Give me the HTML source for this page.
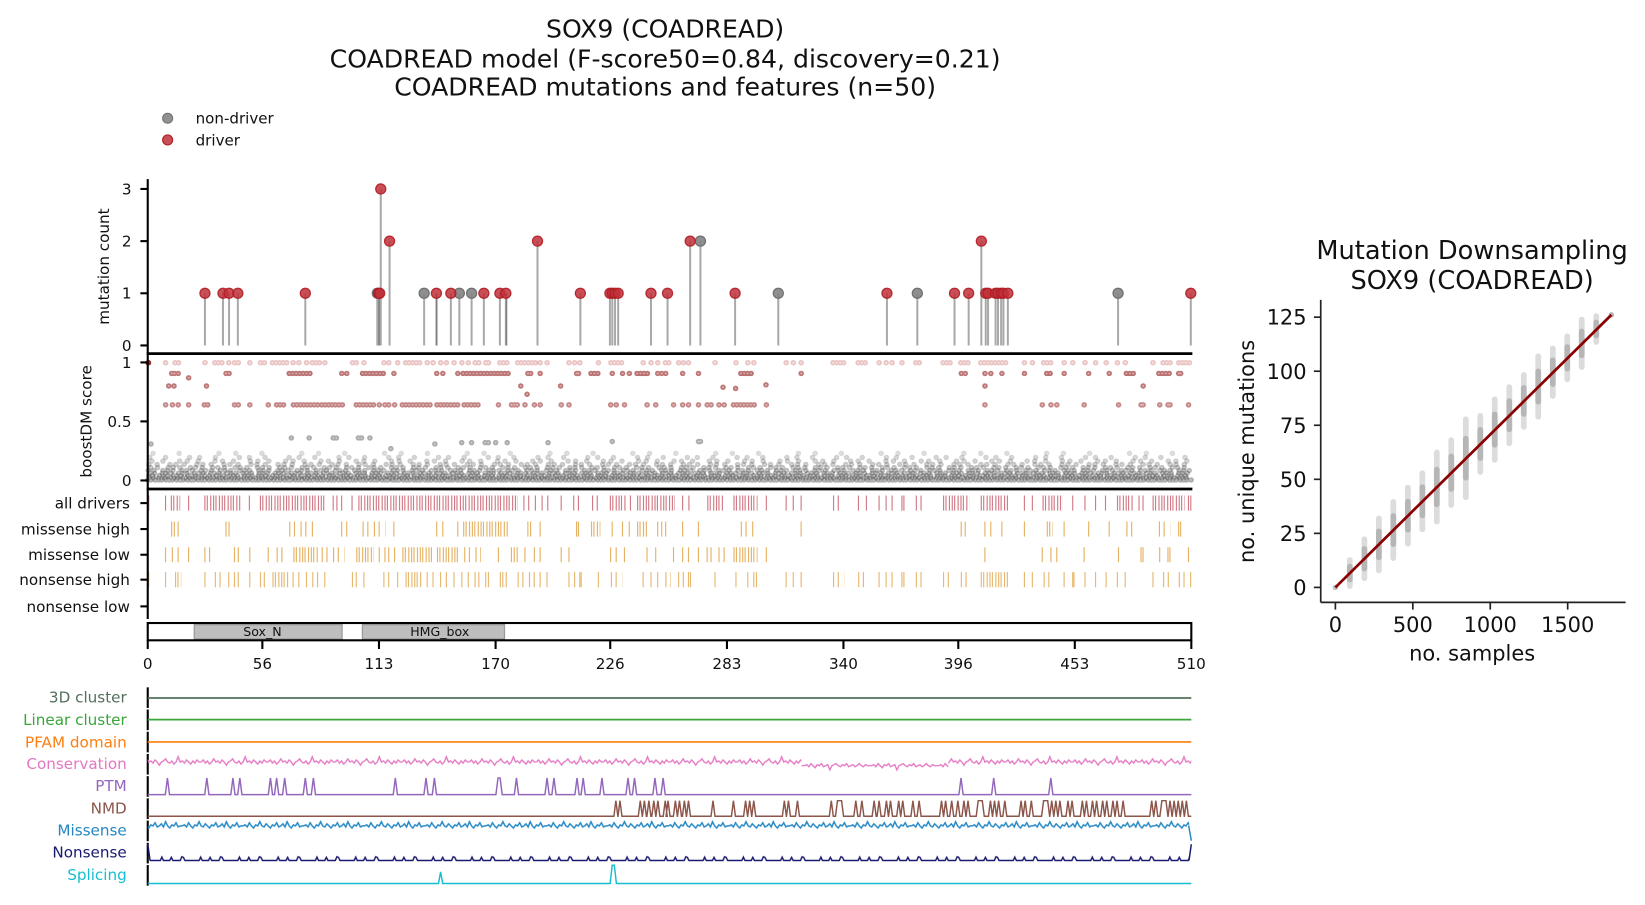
<!DOCTYPE html>
<html><head><meta charset="utf-8">
<style>
html,body{margin:0;padding:0;background:#fff;}
svg{display:block;}
text{font-family:"DejaVu Sans","Liberation Sans",sans-serif;fill:#111;}
</style></head>
<body>
<svg xmlns="http://www.w3.org/2000/svg" width="1645" height="905" viewBox="0 0 1570 864" preserveAspectRatio="none">
<defs>
  <pattern id="pC1" patternUnits="userSpaceOnUse" x="0" y="712.5" width="64" height="30">
    <polyline fill="none" stroke="#e377c2" stroke-width="1.3" points="0,15 2,13 4,16 6,14 8,17 10,15 12,12 14,15 16,14 18,16 20,13 22,15 24,18 26,15 28,14 30,12 32,15 34,16 36,14 38,17 40,15 42,10 44,15 46,14 48,16 50,13 52,15 54,17 56,14 58,16 60,13 62,15 64,15"/>
  </pattern>
  <pattern id="pC2" patternUnits="userSpaceOnUse" x="0" y="716" width="64" height="30">
    <polyline fill="none" stroke="#e377c2" stroke-width="1.3" points="0,15 2,14 4,16 6,13 8,15 10,17 12,14 14,15 16,13 18,16 20,15 22,14 24,19 26,15 28,14 30,13 32,15 34,16 36,14 38,15 40,13 42,16 44,15 46,14 48,16 50,15 52,13 54,15 56,16 58,14 60,15 62,15 64,15"/>
  </pattern>
  <pattern id="pM" patternUnits="userSpaceOnUse" x="0" y="773.5" width="58" height="30">
    <polyline fill="none" stroke="#2487c4" stroke-width="1.4" points="0,15 2,14 4,16 6,12 8,15 10,17 12,14 14,15 16,11 18,15 20,16 22,13 24,15 26,17 28,14 30,15 32,12 34,16 36,15 38,13 40,16 42,11 44,15 46,17 48,14 50,15 52,12 54,16 56,15 58,15"/>
  </pattern>
  <pattern id="pN" patternUnits="userSpaceOnUse" x="0" y="806.5" width="37" height="30">
    <polyline fill="none" stroke="#191970" stroke-width="1.4" points="0,15 5,15 6.5,11.8 8,15 14,15 15.5,12 17,15 24,15 25.5,11.5 27,12 28.5,15 37,15"/>
  </pattern>

  <path id="r1r" d="M167 0H173M260 0H275M387 0H403M477 0H485M936 0H962M205 0H213M298 0H306M494 0H512M583 0H594M635 0H640M795 0H806M819 0H827M874 0H880M900 0H908M917 0H925M996 0H1005M1110 0H1120M1125 0H1137"/>
  <path id="r1s" d="M158 0h.1M195.6 0h.1M218.3 0h.1M223.8 0h.1M227.4 0h.1M238.4 0h.1M248.6 0h.1M252.3 0h.1M279.7 0h.1M285.2 0h.1M292.5 0h.1M310 0h.1M336.4 0h.1M340 0h.1M347.3 0h.1M366.4 0h.1M371 0h.1M379.5 0h.1M407.7 0h.1M413.3 0h.1M420.5 0h.1M426 0h.1M433.3 0h.1M440.8 0h.1M446.9 0h.1M453.4 0h.1M457 0h.1M463.6 0h.1M466.2 0h.1M515.5 0h.1M522.1 0h.1M543 0h.1M548.4 0h.1M553.4 0h.1M571.1 0h.1M613.8 0h.1M621.3 0h.1M627.7 0h.1M647.7 0h.1M652.2 0h.1M657.1 0h.1M682.4 0h.1M702.4 0h.1M713.7 0h.1M719.4 0h.1M750.3 0h.1M757.1 0h.1M764.6 0h.1M839 0h.1M845.7 0h.1M851.4 0h.1M860.8 0h.1M977.7 0h.1M985.3 0h.1M1015.6 0h.1M1023.8 0h.1M1035.5 0h.1M1045.6 0h.1M1055.7 0h.1M1066.4 0h.1M1073.9 0h.1M1100.4 0h.1"/>
  <path id="r9r" d="M442 0H485M608 0H618M564 0H573M999 0H1005M276 0H299M346 0H368M707 0H720M1075 0H1084M1106 0H1117"/>
  <path id="r9s" d="M163.8 0h.1M166.4 0h.1M170 0h.1M215.7 0h.1M218.6 0h.1M326.1 0h.1M330.9 0h.1M375.9 0h.1M416.8 0h.1M422.6 0h.1M436.9 0h.1M503.8 0h.1M506.4 0h.1M515.5 0h.1M550.3 0h.1M552.1 0h.1M584.3 0h.1M594.1 0h.1M600.6 0h.1M627.7 0h.1M631.5 0h.1M635.3 0h.1M651.5 0h.1M666.6 0h.1M764.6 0h.1M917.4 0h.1M921.2 0h.1M940 0h.1M945.6 0h.1M956.2 0h.1M977.7 0h.1M1015.6 0h.1M1039 0h.1M1058.6 0h.1M1124.9 0h.1M1126.8 0h.1M161 12h.1M166 12h.1M197 12h.1M497 12h.1M535 12h.1M690 13.2h.1M702 14.3h.1M731 10.9h.1M940 12h.1M1091 12h.1M180 4.2h.1M503 19.9h.1"/>
  <path id="r6r" d="M280 0H304M340 0H357M384 0H413M417 0H439M700 0H723M307 0H329M443 0H459M264 0H273M195 0H201"/>
  <path id="r6s" d="M158 0h.1M164.5 0h.1M170 0h.1M180 0h.1M223.8 0h.1M227.4 0h.1M238.4 0h.1M256 0h.1M362 0h.1M367.4 0h.1M371 0h.1M376.6 0h.1M475.7 0h.1M488.1 0h.1M490.8 0h.1M493.6 0h.1M501 0h.1M510 0h.1M515.5 0h.1M535.6 0h.1M543 0h.1M582.8 0h.1M588.1 0h.1M596 0h.1M617.5 0h.1M625.8 0h.1M642.8 0h.1M651.5 0h.1M657.1 0h.1M666.6 0h.1M674.9 0h.1M678.6 0h.1M686.2 0h.1M691.1 0h.1M731.4 0h.1M940 0h.1M994.7 0h.1M1003 0h.1M1008.6 0h.1M1034.7 0h.1M1067.5 0h.1M1089 0h.1M1090.9 0h.1M1106.8 0h.1M1114.7 0h.1M1116.6 0h.1M1134.3 0h.1"/>
  <g id="gb">
    <path d="M141 458.2H1137" stroke-opacity=".46" stroke-dasharray="0 2.9 0 4.1 0 3.3"/>
    <path d="M142.5 456.3H1137" stroke-opacity=".44" stroke-dasharray="0 3.7 0 5.3 0 2.6"/>
    <path d="M141.8 454.1H1137" stroke-opacity=".42" stroke-dasharray="0 4.1 0 6.3 0 3.1"/>
    <path d="M143 451.7H1137" stroke-opacity=".4" stroke-dasharray="0 4.6 0 7.3 0 3.5"/>
    <path d="M141.4 449.1H1137" stroke-opacity=".37" stroke-dasharray="0 5.4 0 8.7 0 4.2"/>
    <path d="M144 446.4H1137" stroke-opacity=".34" stroke-dasharray="0 6.4 0 10.1 0 4.8"/>
    <path d="M142 443.4H1137" stroke-opacity=".31" stroke-dasharray="0 7.9 0 12.3 0 5.6"/>
    <path d="M145 440.2H1137" stroke-opacity=".28" stroke-dasharray="0 10.5 0 16 0 7.2"/>
    <path d="M143 436.7H1137" stroke-opacity=".25" stroke-dasharray="0 15 0 23 0 9.5"/>
    <path d="M146 432.8H1137" stroke-opacity=".2" stroke-dasharray="0 25 0 38 0 16"/>
    <path stroke-opacity=".45" d="M144 423.8h.1M278 418.1h.1M295 418.1h.1M318 418.1h.1M321 418.1h.1M342 418.1h.1M345 418.1h.1M353 418.1h.1M373 428.3h.1M415 423.8h.1M440.6 422.6h.1M450 422.6h.1M463 422.6h.1M466 422.6h.1M473 422.6h.1M484 422.6h.1M523 422.6h.1M584.3 421.5h.1M666.6 421.5h.1M668.5 421.5h.1"/>
  </g>
</defs>
<rect x="0" y="0" width="1570" height="864" fill="#fff"/>

<text x="634.8" y="35.7" font-size="24" text-anchor="middle">SOX9 (COADREAD)</text>
<text x="634.8" y="64.4" font-size="24" text-anchor="middle">COADREAD model (F-score50=0.84, discovery=0.21)</text>
<text x="634.8" y="91.4" font-size="24" text-anchor="middle">COADREAD mutations and features (n=50)</text>

<circle cx="160" cy="112.9" r="4.8" fill="#858585" fill-opacity="0.9" stroke="#707070" stroke-width="1"/>
<text x="186.7" y="118.1" font-size="14.4">non-driver</text>
<circle cx="160" cy="133.6" r="4.8" fill="#c0303a" fill-opacity="0.85" stroke="#b01c24" stroke-width="1"/>
<text x="186.7" y="138.8" font-size="14.4">driver</text>

<g stroke="#000" stroke-width="2" fill="none">
  <line x1="141" y1="171" x2="141" y2="337.6"/>
  <line x1="134" y1="180.4" x2="141" y2="180.4"/>
  <line x1="134" y1="230.2" x2="141" y2="230.2"/>
  <line x1="134" y1="280" x2="141" y2="280"/>
  <line x1="134" y1="329.8" x2="141" y2="329.8"/>
</g>
<g font-size="14.5" text-anchor="end">
  <text x="125.5" y="185.6">3</text>
  <text x="125.5" y="235.4">2</text>
  <text x="125.5" y="285.2">1</text>
  <text x="125.5" y="335">0</text>
</g>
<text x="103.9" y="254.5" font-size="14.5" text-anchor="middle" transform="rotate(-90 103.9 254.5)">mutation count</text>

<path fill="none" stroke="#a8a8a8" stroke-width="1.9" d="M195.6 329.8V280M212.8 329.8V280M218.6 329.8V280M227 329.8V280M291.4 329.8V280M360.1 329.8V280M361.3 329.8V280M362.4 329.8V280M363.4 329.8V180.4M371.8 329.8V230.2M404.8 329.8V280M416.5 329.8V280M430.3 329.8V280M438.4 329.8V280M450.1 329.8V280M461.8 329.8V280M477.1 329.8V280M482.8 329.8V280M513 329.8V230.2M553.9 329.8V280M582.1 329.8V280M584.4 329.8V280M587 329.8V280M590 329.8V280M621.3 329.8V280M637.1 329.8V280M658.7 329.8V230.2M668.5 329.8V230.2M701.6 329.8V280M742.8 329.8V280M846.5 329.8V280M875.5 329.8V280M911 329.8V280M924.5 329.8V280M936.6 329.8V230.2M940.8 329.8V280M943 329.8V280M950.2 329.8V280M952.5 329.8V280M955.5 329.8V280M957.7 329.8V280M961.9 329.8V280M1067.1 329.8V280M1136.5 329.8V280"/>
<path fill="none" stroke="#808080" stroke-width="1.5" d="M416.8 329.8V280M483.4 329.8V280M361.8 329.8V280"/>
<g fill="#858585" fill-opacity="0.92" stroke="#707070" stroke-width="1.2">
  <circle cx="360.1" cy="280" r="4.8"/><circle cx="404.8" cy="280" r="4.8"/><circle cx="438.4" cy="280" r="4.8"/><circle cx="450.1" cy="280" r="4.8"/><circle cx="668.5" cy="230.2" r="4.8"/><circle cx="742.8" cy="280" r="4.8"/><circle cx="875.5" cy="280" r="4.8"/><circle cx="1067.1" cy="280" r="4.8"/>
</g>
<g fill="#c0303a" fill-opacity="0.85" stroke="#b01c24" stroke-opacity="0.9" stroke-width="1.2">
  <circle cx="195.6" cy="280" r="4.8"/><circle cx="212.8" cy="280" r="4.8"/><circle cx="218.6" cy="280" r="4.8"/><circle cx="227" cy="280" r="4.8"/><circle cx="291.4" cy="280" r="4.8"/><circle cx="361.3" cy="280" r="4.8"/><circle cx="362.4" cy="280" r="4.8"/><circle cx="363.4" cy="180.4" r="4.8"/><circle cx="371.8" cy="230.2" r="4.8"/><circle cx="416.5" cy="280" r="4.8"/><circle cx="430.3" cy="280" r="4.8"/><circle cx="461.8" cy="280" r="4.8"/><circle cx="477.1" cy="280" r="4.8"/><circle cx="482.8" cy="280" r="4.8"/><circle cx="513" cy="230.2" r="4.8"/><circle cx="553.9" cy="280" r="4.8"/><circle cx="582.1" cy="280" r="4.8"/><circle cx="584.4" cy="280" r="4.8"/><circle cx="587" cy="280" r="4.8"/><circle cx="590" cy="280" r="4.8"/><circle cx="621.3" cy="280" r="4.8"/><circle cx="637.1" cy="280" r="4.8"/><circle cx="658.7" cy="230.2" r="4.8"/><circle cx="701.6" cy="280" r="4.8"/><circle cx="846.5" cy="280" r="4.8"/><circle cx="911" cy="280" r="4.8"/><circle cx="924.5" cy="280" r="4.8"/><circle cx="936.6" cy="230.2" r="4.8"/><circle cx="940.8" cy="280" r="4.8"/><circle cx="943" cy="280" r="4.8"/><circle cx="950.2" cy="280" r="4.8"/><circle cx="952.5" cy="280" r="4.8"/><circle cx="955.5" cy="280" r="4.8"/><circle cx="957.7" cy="280" r="4.8"/><circle cx="961.9" cy="280" r="4.8"/><circle cx="1136.5" cy="280" r="4.8"/>
</g>

<g fill="none" stroke-linecap="round">
  <use href="#gb" stroke="#474747" stroke-width="5.2"/>
  <use href="#gb" stroke="#ffffff" stroke-width="1.6"/>
</g>

<g fill="none" stroke-linecap="round">
  <use href="#r1r" y="346.3" stroke="#b02020" stroke-width="5.2" stroke-opacity=".27" stroke-dasharray="0 3.4"/>
  <use href="#r1r" y="346.3" stroke="#ffffff" stroke-width="2.1" stroke-opacity=".5" stroke-dasharray="0 3.4"/>
  <use href="#r1s" y="346.3" stroke="#b02020" stroke-width="5.2" stroke-opacity=".27"/>
  <use href="#r1s" y="346.3" stroke="#ffffff" stroke-width="2.1" stroke-opacity=".5"/>
  <path d="M141.5 346.3h.1" stroke="#8b1010" stroke-width="5.4" stroke-opacity=".9"/>

  <use href="#r9r" y="356.5" stroke="#8b1010" stroke-width="5.2" stroke-opacity=".6" stroke-dasharray="0 3.3"/>
  <use href="#r9r" y="356.5" stroke="#ffffff" stroke-width="2" stroke-opacity=".4" stroke-dasharray="0 3.3"/>
  <use href="#r9s" y="356.5" stroke="#8b1010" stroke-width="5.2" stroke-opacity=".57"/>
  <use href="#r9s" y="356.5" stroke="#ffffff" stroke-width="2" stroke-opacity=".4"/>

  <use href="#r6r" y="386.5" stroke="#8b1010" stroke-width="5.2" stroke-opacity=".52" stroke-dasharray="0 3.3"/>
  <use href="#r6r" y="386.5" stroke="#ffffff" stroke-width="2" stroke-opacity=".4" stroke-dasharray="0 3.3"/>
  <use href="#r6s" y="386.5" stroke="#8b1010" stroke-width="5.2" stroke-opacity=".5"/>
  <use href="#r6s" y="386.5" stroke="#ffffff" stroke-width="2" stroke-opacity=".4"/>
</g>

<g stroke="#000" fill="none">
  <line x1="140" y1="337.6" x2="1138" y2="337.6" stroke-width="2.6"/>
  <line x1="140" y1="466.8" x2="1138" y2="466.8" stroke-width="2.6"/>
  <line x1="141" y1="337.6" x2="141" y2="466.8" stroke-width="2"/>
  <line x1="134" y1="346" x2="141" y2="346" stroke-width="2"/>
  <line x1="134" y1="402.3" x2="141" y2="402.3" stroke-width="2"/>
  <line x1="134" y1="458.7" x2="141" y2="458.7" stroke-width="2"/>
</g>
<g font-size="14.5" text-anchor="end">
  <text x="125.5" y="351.2">1</text>
  <text x="125.5" y="407.5">0.5</text>
  <text x="125.5" y="463.9">0</text>
</g>
<text x="87.5" y="402.3" font-size="14.5" text-anchor="middle" transform="rotate(-90 87.5 402.3)">boostDM score</text>

<g fill="none" stroke="#c04858" stroke-opacity="0.72" transform="translate(0,473.1)">
  <path stroke-width="14.4" stroke-dasharray="1.1 1.2 1.1 2.2 1.1 1.6" d="M163 7.2H172M195 7.2H230M248 7.2H311M342 7.2H494M582 7.2H597M608 7.2H644M675 7.2H691M700 7.2H723M900 7.2H925M936 7.2H962M995 7.2H1014M1066 7.2H1082M1100 7.2H1131"/>
  <path stroke-width="14.4" stroke-dasharray="1.1 3.4 1.1 5.2" d="M321 7.2H331M547 7.2H555M565 7.2H573M795 7.2H805M874 7.2H880"/>
  <path stroke-width="1.1" d="M142 0v14.4M158 0v14.4M180 0v14.4M238 0v14.4M318 0v14.4M336 0v14.4M500 0v14.4M504.6 0v14.4M511 0v14.4M517.4 0v14.4M522.8 0v14.4M535.6 0v14.4M601.7 0v14.4M651.5 0v14.4M657.5 0v14.4M731.4 0v14.4M750.3 0v14.4M757.1 0v14.4M764.6 0v14.4M819.3 0v14.4M826.9 0v14.4M839 0v14.4M845.7 0v14.4M851.4 0v14.4M860.8 0v14.4M862.7 0v14.4M977.7 0v14.4M985.3 0v14.4M1023.8 0v14.4M1035.5 0v14.4M1045.6 0v14.4M1055.1 0v14.4M1087.1 0v14.4M1090.9 0v14.4M1134.3 0v14.4M1136.5 0v14.4"/>
</g>
<g fill="none" stroke="#e0a040" stroke-opacity="0.8" transform="translate(0,497.9)">
  <path stroke-width="14.4" stroke-dasharray="1.1 1.2 1.1 2.2 1.1 1.6" d="M442 7.2H485M608 7.2H618M564 7.2H573M999 7.2H1005"/>
  <path stroke-width="14.4" stroke-dasharray="1.1 3.4 1.1 5.2" d="M276 7.2H299M346 7.2H368M707 7.2H720M1075 7.2H1084M1106 7.2H1117"/>
  <path stroke-width="1.1" d="M163.8 0v14.4M166.4 0v14.4M170 0v14.4M215.7 0v14.4M218.6 0v14.4M326.1 0v14.4M330.9 0v14.4M375.9 0v14.4M416.8 0v14.4M422.6 0v14.4M436.9 0v14.4M503.8 0v14.4M506.4 0v14.4M515.5 0v14.4M550.3 0v14.4M552.1 0v14.4M584.3 0v14.4M594.1 0v14.4M600.6 0v14.4M627.7 0v14.4M631.5 0v14.4M635.3 0v14.4M651.5 0v14.4M666.6 0v14.4M764.6 0v14.4M917.4 0v14.4M921.2 0v14.4M940 0v14.4M945.6 0v14.4M956.2 0v14.4M977.7 0v14.4M1015.6 0v14.4M1039 0v14.4M1058.6 0v14.4M1124.9 0v14.4M1126.8 0v14.4"/>
</g>
<g fill="none" stroke="#e0a040" stroke-opacity="0.8" transform="translate(0,522.4)">
  <path stroke-width="14.4" stroke-dasharray="1.1 1.2 1.1 2.2 1.1 1.6" d="M280 7.2H304M340 7.2H357M384 7.2H413M417 7.2H439M700 7.2H723"/>
  <path stroke-width="14.4" stroke-dasharray="1.1 3.4 1.1 5.2" d="M307 7.2H329M443 7.2H459M264 7.2H273M195 7.2H201"/>
  <path stroke-width="1.1" d="M158 0v14.4M164.5 0v14.4M170 0v14.4M180 0v14.4M223.8 0v14.4M227.4 0v14.4M238.4 0v14.4M256 0v14.4M362 0v14.4M367.4 0v14.4M371 0v14.4M376.6 0v14.4M475.7 0v14.4M488.1 0v14.4M490.8 0v14.4M493.6 0v14.4M501 0v14.4M510 0v14.4M515.5 0v14.4M535.6 0v14.4M543 0v14.4M582.8 0v14.4M588.1 0v14.4M596 0v14.4M617.5 0v14.4M625.8 0v14.4M642.8 0v14.4M651.5 0v14.4M657.1 0v14.4M666.6 0v14.4M674.9 0v14.4M678.6 0v14.4M686.2 0v14.4M691.1 0v14.4M731.4 0v14.4M940 0v14.4M994.7 0v14.4M1003 0v14.4M1008.6 0v14.4M1034.7 0v14.4M1067.5 0v14.4M1089 0v14.4M1090.9 0v14.4M1106.8 0v14.4M1114.7 0v14.4M1116.6 0v14.4M1134.3 0v14.4"/>
</g>
<g fill="none" stroke="#e0a040" stroke-opacity="0.75" transform="translate(0,546.2)">
  <path stroke-width="14.4" stroke-dasharray="1.1 1.2 1.1 2.2 1.1 1.6" d="M167 7.2H173M260 7.2H275M387 7.2H403M477 7.2H485M936 7.2H962"/>
  <path stroke-width="14.4" stroke-dasharray="1.1 3.4 1.1 5.2" d="M205 7.2H213M298 7.2H306M494 7.2H512M583 7.2H594M635 7.2H640M795 7.2H806M819 7.2H827M874 7.2H880M900 7.2H908M917 7.2H925M996 7.2H1005M1110 7.2H1120M1125 7.2H1137"/>
  <path stroke-width="1.1" d="M141.9 0v14.4M158 0v14.4M195.6 0v14.4M218.3 0v14.4M223.8 0v14.4M227.4 0v14.4M238.4 0v14.4M248.6 0v14.4M252.3 0v14.4M279.7 0v14.4M285.2 0v14.4M292.5 0v14.4M310 0v14.4M336.4 0v14.4M340 0v14.4M347.3 0v14.4M366.4 0v14.4M371 0v14.4M379.5 0v14.4M407.7 0v14.4M413.3 0v14.4M420.5 0v14.4M426 0v14.4M433.3 0v14.4M440.8 0v14.4M446.9 0v14.4M453.4 0v14.4M457 0v14.4M463.6 0v14.4M466.2 0v14.4M515.5 0v14.4M522.1 0v14.4M543 0v14.4M548.4 0v14.4M553.4 0v14.4M554.7 0v14.4M571.1 0v14.4M613.8 0v14.4M621.3 0v14.4M627.7 0v14.4M647.7 0v14.4M652.2 0v14.4M657.1 0v14.4M659 0v14.4M682.4 0v14.4M702.4 0v14.4M713.7 0v14.4M719.4 0v14.4M722 0v14.4M750.3 0v14.4M757.1 0v14.4M764.6 0v14.4M839 0v14.4M845.7 0v14.4M851.4 0v14.4M860.8 0v14.4M862.7 0v14.4M977.7 0v14.4M985.3 0v14.4M1015.6 0v14.4M1023.8 0v14.4M1025 0v14.4M1035.5 0v14.4M1045.6 0v14.4M1055.7 0v14.4M1066.4 0v14.4M1073.9 0v14.4M1100.4 0v14.4"/>
</g>

<g stroke="#000" stroke-width="2" fill="none">
  <line x1="141" y1="466.8" x2="141" y2="591"/>
  <line x1="134" y1="480.3" x2="141" y2="480.3"/>
  <line x1="134" y1="505.1" x2="141" y2="505.1"/>
  <line x1="134" y1="529.6" x2="141" y2="529.6"/>
  <line x1="134" y1="553.4" x2="141" y2="553.4"/>
  <line x1="134" y1="578.9" x2="141" y2="578.9"/>
</g>
<g font-size="14.5" text-anchor="end">
  <text x="124" y="485.5">all drivers</text>
  <text x="124" y="510.3">missense high</text>
  <text x="124" y="534.8">missense low</text>
  <text x="124" y="558.6">nonsense high</text>
  <text x="124" y="584.1">nonsense low</text>
</g>

<rect x="185.4" y="596.4" width="141.1" height="13.6" fill="#bebebe" stroke="#9a9a9a" stroke-width="1.2"/>
<rect x="345.9" y="596.4" width="135.6" height="13.6" fill="#bebebe" stroke="#9a9a9a" stroke-width="1.2"/>
<text x="250.5" y="607" font-size="12" text-anchor="middle">Sox_N</text>
<text x="419.7" y="607" font-size="12" text-anchor="middle">HMG_box</text>
<rect x="141" y="594.8" width="996" height="16.5" fill="none" stroke="#000" stroke-width="2"/>
<g stroke="#000" stroke-width="2">
  <line x1="141" y1="611.3" x2="141" y2="619.6"/>
  <line x1="250.4" y1="611.3" x2="250.4" y2="619.6"/>
  <line x1="361.7" y1="611.3" x2="361.7" y2="619.6"/>
  <line x1="473" y1="611.3" x2="473" y2="619.6"/>
  <line x1="582.4" y1="611.3" x2="582.4" y2="619.6"/>
  <line x1="693.8" y1="611.3" x2="693.8" y2="619.6"/>
  <line x1="805" y1="611.3" x2="805" y2="619.6"/>
  <line x1="914.6" y1="611.3" x2="914.6" y2="619.6"/>
  <line x1="1025.8" y1="611.3" x2="1025.8" y2="619.6"/>
  <line x1="1137" y1="611.3" x2="1137" y2="619.6"/>
</g>
<g font-size="14.5" text-anchor="middle">
  <text x="141" y="638.8">0</text>
  <text x="250.4" y="638.8">56</text>
  <text x="361.7" y="638.8">113</text>
  <text x="473" y="638.8">170</text>
  <text x="582.4" y="638.8">226</text>
  <text x="693.8" y="638.8">283</text>
  <text x="805" y="638.8">340</text>
  <text x="914.6" y="638.8">396</text>
  <text x="1025.8" y="638.8">453</text>
  <text x="1137" y="638.8">510</text>
</g>

<g stroke="#000" stroke-width="2">
  <line x1="141" y1="656.2" x2="141" y2="675.9"/>
  <line x1="141" y1="677.4" x2="141" y2="697.1"/>
  <line x1="141" y1="698.6" x2="141" y2="718.3"/>
  <line x1="141" y1="719.8" x2="141" y2="739.5"/>
  <line x1="141" y1="741" x2="141" y2="760.7"/>
  <line x1="141" y1="762.2" x2="141" y2="781.9"/>
  <line x1="141" y1="783.4" x2="141" y2="803.1"/>
  <line x1="141" y1="804.6" x2="141" y2="824.3"/>
  <line x1="141" y1="825.8" x2="141" y2="845.5"/>
</g>
<g font-size="14.5" text-anchor="end">
  <text x="121" y="670.9" style="fill:#52705c">3D cluster</text>
  <text x="121" y="692.2" style="fill:#3aa53a">Linear cluster</text>
  <text x="121" y="713.5" style="fill:#ff7f0e">PFAM domain</text>
  <text x="121" y="734.2" style="fill:#e377c2">Conservation</text>
  <text x="121" y="755.2" style="fill:#9467bd">PTM</text>
  <text x="121" y="776.5" style="fill:#8c564b">NMD</text>
  <text x="121" y="797.5" style="fill:#2487c4">Missense</text>
  <text x="121" y="818.5" style="fill:#191970">Nonsense</text>
  <text x="121" y="840.2" style="fill:#17becf">Splicing</text>
</g>
<line x1="141" y1="666.4" x2="1137" y2="666.4" stroke="#52705c" stroke-width="1.6"/>
<line x1="141" y1="687" x2="1137" y2="687" stroke="#3aa53a" stroke-width="1.6"/>
<line x1="141" y1="708.3" x2="1137" y2="708.3" stroke="#ff7f0e" stroke-width="1.6"/>
<rect x="141" y="719" width="624" height="16" fill="url(#pC1)"/>
<rect x="765" y="722" width="140" height="17" fill="url(#pC2)"/>
<rect x="905" y="719" width="232" height="16" fill="url(#pC1)"/>
<path fill="none" stroke="#9467bd" stroke-width="1.4" d="M141 758.6H157.8l2-15.9l2 15.9H195.4l2-15.9l2 15.9H220.3l2-15.9l2 15.9H226.9l2-15.9l2 15.9H256.1l2-15.9l2 15.9H262l2-15.9l2 15.9H269.7l2-15.9l2 15.9H289.4l2-15.9l2 15.9H297.1l2-15.9l2 15.9H375.3l2-15.9l2 15.9H404.6l2-15.9l2 15.9H412.6l2-15.9l2 15.9H473.3l2-15.9h2l2 15.9H490.9l2-15.9l2 15.9H520.1l2-15.9l2 15.9H526.7l2-15.9l2 15.9H548.7l2-15.9l2 15.9H554.6l2-15.9l2 15.9H572.5l2-15.9l2 15.9H597.4l2-15.9l2 15.9H603.6l2-15.9l2 15.9H623.1l2-15.9l2 15.9H630.9l2-15.9l2 15.9H915.2l2-15.9l2 15.9H946.4l2-15.9l2 15.9H1000.9l2-15.9l2 15.9H1137"/>
<path fill="none" stroke="#8c564b" stroke-width="1.4" d="M141 779.3H585.9l1.9-14.9l1.9 14.9H589.8l1.9-14.9l1.9 14.9H609.2l1.9-14.9l1.9 14.9H613.1l1.9-14.9l1.9 14.9H617.4l1.9-14.9l1.9 14.9H622.1l1.9-14.9l1.9 14.9H626l1.9-14.9l1.9 14.9H633l1.9-14.9l1.9 14.9H635.7l1.9-14.9l1.9 14.9H642.7l1.9-14.9l1.9 14.9H646.6l1.9-14.9l1.9 14.9H651.3l1.9-14.9l1.9 14.9H655.2l1.9-14.9l1.9 14.9H678.6l1.9-14.9l1.9 14.9H698.1l1.9-14.9l1.9 14.9H709.7l1.9-14.9l1.9 14.9H713.6l1.9-14.9l1.9 14.9H717.5l1.9-14.9l1.9 14.9H746.7l1.9-14.9l1.9 14.9H750.6l1.9-14.9l1.9 14.9H759.2l1.9-14.9l1.9 14.9H791.5l1.9-14.9l1.9 14.9H797.4l1.9-14.9H803.2l1.9 14.9H814.9l1.9-14.9l1.9 14.9H820.7l1.9-14.9l1.9 14.9H832.4l1.9-14.9l1.9 14.9H837.1l1.9-14.9l1.9 14.9H844.1l1.9-14.9l1.9 14.9H848l1.9-14.9l1.9 14.9H855.8l1.9-14.9l1.9 14.9H859.7l1.9-14.9l1.9 14.9H869.4l1.9-14.9l1.9 14.9H875.3l1.9-14.9l1.9 14.9H896.7l1.9-14.9l1.9 14.9H900.6l1.9-14.9l1.9 14.9H906.4l1.9-14.9l1.9 14.9H912.3l1.9-14.9l1.9 14.9H918.1l1.9-14.9l1.9 14.9H922l1.9-14.9l1.9 14.9H931.7l1.9-14.9H937.5l1.9 14.9H943.4l1.9-14.9l1.9 14.9H947.3l1.9-14.9l1.9 14.9H951.2l1.9-14.9l1.9 14.9H957.1l1.9-14.9l1.9 14.9H972.6l1.9-14.9l1.9 14.9H976.5l1.9-14.9l1.9 14.9H982.4l1.9-14.9l1.9 14.9H994.1l1.9-14.9H999.9l1.9 14.9H1001.9l1.9-14.9l1.9 14.9H1005.8l1.9-14.9l1.9 14.9H1009.7l1.9-14.9l1.9 14.9H1017.4l1.9-14.9l1.9 14.9H1021.3l1.9-14.9l1.9 14.9H1031.1l1.9-14.9l1.9 14.9H1035l1.9-14.9l1.9 14.9H1040.8l1.9-14.9l1.9 14.9H1044.7l1.9-14.9l1.9 14.9H1050.5l1.9-14.9l1.9 14.9H1054.4l1.9-14.9l1.9 14.9H1060.3l1.9-14.9l1.9 14.9H1064.2l1.9-14.9l1.9 14.9H1070l1.9-14.9l1.9 14.9H1097.3l1.9-14.9l1.9 14.9H1101.2l1.9-14.9l1.9 14.9H1107l1.9-14.9H1112.8l1.9 14.9H1114.8l1.9-14.9l1.9 14.9H1118.7l1.9-14.9l1.9 14.9H1122.6l1.9-14.9l1.9 14.9H1126.5l1.9-14.9l1.9 14.9H1130.4l1.9-14.9l1.9 14.9H1137"/>
<rect x="141" y="780" width="994" height="17" fill="url(#pM)"/>
<path fill="none" stroke="#2487c4" stroke-width="1.4" d="M1134.5 788.5L1137 802.6"/>
<rect x="143" y="814" width="992" height="11" fill="url(#pN)"/>
<path fill="none" stroke="#191970" stroke-width="1.4" d="M141 805.5L143.2 821.5M1134.8 821.5L1137 806"/>
<path fill="none" stroke="#17becf" stroke-width="1.4" d="M141 843.5H418.5l2-11.1l2 11.1H582.3l2-17.5h2l2 17.5H1137"/>

<text x="1405" y="247.3" font-size="24.5" text-anchor="middle">Mutation Downsampling</text>
<text x="1405" y="276" font-size="24.5" text-anchor="middle">SOX9 (COADREAD)</text>
<path fill="none" stroke="#8c8c8c" stroke-opacity="0.3" stroke-width="5.5" stroke-linecap="round" d="M1288.3 534.7V559.5M1302.2 514.8V552M1316 494.9V544.5M1329.8 479.2V532.8M1343.7 465.5V519.1M1357.5 451.8V505.4M1371.3 431.9V497.9M1385.1 420.2V482.2M1399 400.3V474.7M1412.8 397V450.6M1426.6 381.2V439M1440.5 369.6V423.2M1454.3 357.9V407.5M1468.1 340.1V397.9M1482 332.6V378M1495.8 321V362.2M1509.6 305.1V350.5M1523.5 301.7V326.5"/>
<path fill="none" stroke="#7a7a7a" stroke-opacity="0.38" stroke-width="5.5" stroke-linecap="round" d="M1288.3 540.9V553.3M1302.2 524.1V542.7M1316 507.3V532.1M1329.8 492.6V519.4M1343.7 478.9V505.7M1357.5 465.2V492M1371.3 448.4V481.4M1385.1 435.7V466.7M1399 418.9V456.1M1412.8 410.4V437.2M1426.6 395.7V424.6M1440.5 383V409.8M1454.3 370.3V395.1M1468.1 354.6V383.5M1482 344V366.7M1495.8 331.3V351.9M1509.6 316.5V339.2M1523.5 307.9V320.3"/>
<circle cx="1274.5" cy="560.8" r="2.6" fill="#808080" fill-opacity="0.5"/>
<circle cx="1537.9" cy="300.6" r="2.6" fill="#808080" fill-opacity="0.6"/>
<line x1="1274.5" y1="560.8" x2="1537.9" y2="300.6" stroke="#8b0000" stroke-width="2.6"/>
<g stroke="#222" stroke-width="1.6">
  <line x1="1260.5" y1="286.3" x2="1260.5" y2="575.1"/>
  <line x1="1260.5" y1="575.1" x2="1551.5" y2="575.1"/>
  <line x1="1254" y1="560.8" x2="1260.5" y2="560.8"/>
  <line x1="1254" y1="509.2" x2="1260.5" y2="509.2"/>
  <line x1="1254" y1="457.6" x2="1260.5" y2="457.6"/>
  <line x1="1254" y1="406" x2="1260.5" y2="406"/>
  <line x1="1254" y1="354.4" x2="1260.5" y2="354.4"/>
  <line x1="1254" y1="302.8" x2="1260.5" y2="302.8"/>
  <line x1="1274.5" y1="575.1" x2="1274.5" y2="582"/>
  <line x1="1348.4" y1="575.1" x2="1348.4" y2="582"/>
  <line x1="1422.3" y1="575.1" x2="1422.3" y2="582"/>
  <line x1="1496.2" y1="575.1" x2="1496.2" y2="582"/>
</g>
<g font-size="20" text-anchor="end">
  <text x="1247" y="568">0</text>
  <text x="1247" y="516.4">25</text>
  <text x="1247" y="464.8">50</text>
  <text x="1247" y="413.2">75</text>
  <text x="1247" y="361.6">100</text>
  <text x="1247" y="310">125</text>
</g>
<g font-size="20" text-anchor="middle">
  <text x="1274.5" y="603.6">0</text>
  <text x="1348.4" y="603.6">500</text>
  <text x="1422.3" y="603.6">1000</text>
  <text x="1496.2" y="603.6">1500</text>
</g>
<text x="1405" y="630.6" font-size="20" text-anchor="middle">no. samples</text>
<text x="1196.8" y="431" font-size="20" text-anchor="middle" transform="rotate(-90 1196.8 431)">no. unique mutations</text>
</svg>
</body></html>
